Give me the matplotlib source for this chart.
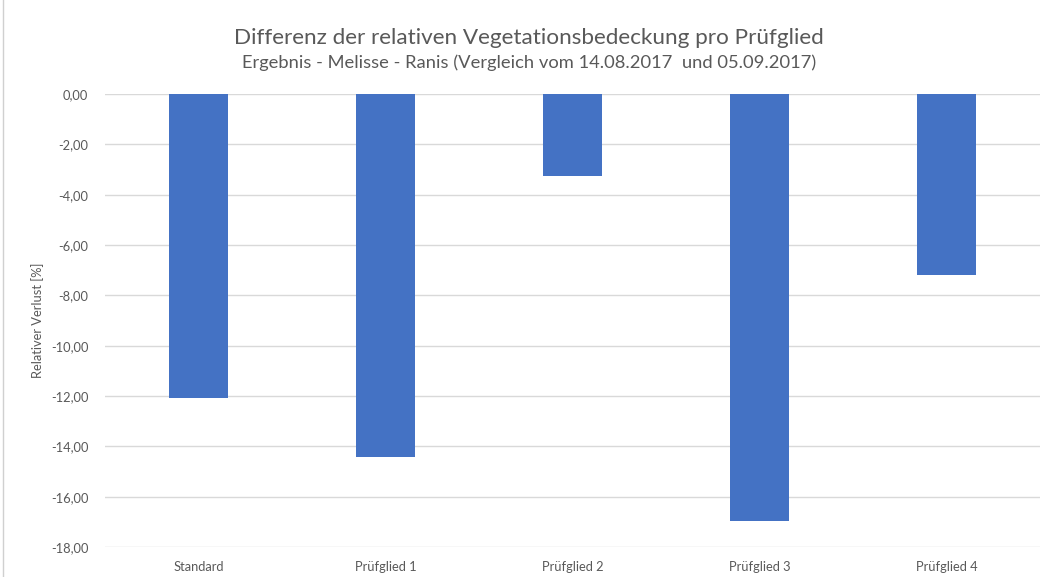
import matplotlib.pyplot as plt
from matplotlib.lines import Line2D
import numpy as np

plt.rcParams['font.family'] = ['Lato', 'DejaVu Sans']

kategorien = ['Standard', 'Prüfglied 1', 'Prüfglied 2', 'Prüfglied 3', 'Prüfglied 4']
verlust = [-12.08, -14.41, -3.25, -16.96, -7.19]
y_ticks = [0, -2, -4, -6, -8, -10, -12, -14, -16, -18]
y_labels = ['0,00', '-2,00', '-4,00', '-6,00', '-8,00', '-10,00', '-12,00', '-14,00', '-16,00', '-18,00']

grau = '#595959'

fig = plt.figure(figsize=(10.47, 5.77), dpi=100)
ax = fig.add_axes([0.1003, 0.052, 0.893, 0.785])

x = np.arange(len(kategorien))
ax.bar(x, verlust, width=0.315, color='#4472c4', zorder=3)

ax.set_xlim(-0.5, len(kategorien) - 0.5)
ax.set_ylim(-18, 0)
ax.set_yticks(y_ticks)
ax.set_yticklabels(y_labels)
ax.set_xticks(x)
ax.set_xticklabels(kategorien)
ax.grid(axis='y', color='#d9d9d9', linewidth=1, zorder=0)
for s in ax.spines.values():
    s.set_visible(False)
ax.tick_params(axis='both', length=0, colors=grau, labelsize=9.3)
ax.tick_params(axis='y', pad=12)
ax.tick_params(axis='x', pad=10)
ax.set_ylabel('Relativer Verlust [%]', color=grau, fontsize=9.3, labelpad=5)

fig.text(0.505, 0.935, 'Differenz der relativen Vegetationsbedeckung pro Prüfglied',
         ha='center', va='center', fontsize=16.2, color=grau)
fig.text(0.505, 0.892, 'Ergebnis - Melisse - Ranis (Vergleich vom 14.08.2017  und 05.09.2017)',
         ha='center', va='center', fontsize=13.2, color=grau)

# Rahmenlinie links
fig.add_artist(Line2D([0.003, 0.003], [0, 1], transform=fig.transFigure, color='#d0d0d0', linewidth=1))

fig.savefig('out.png', dpi=100)
